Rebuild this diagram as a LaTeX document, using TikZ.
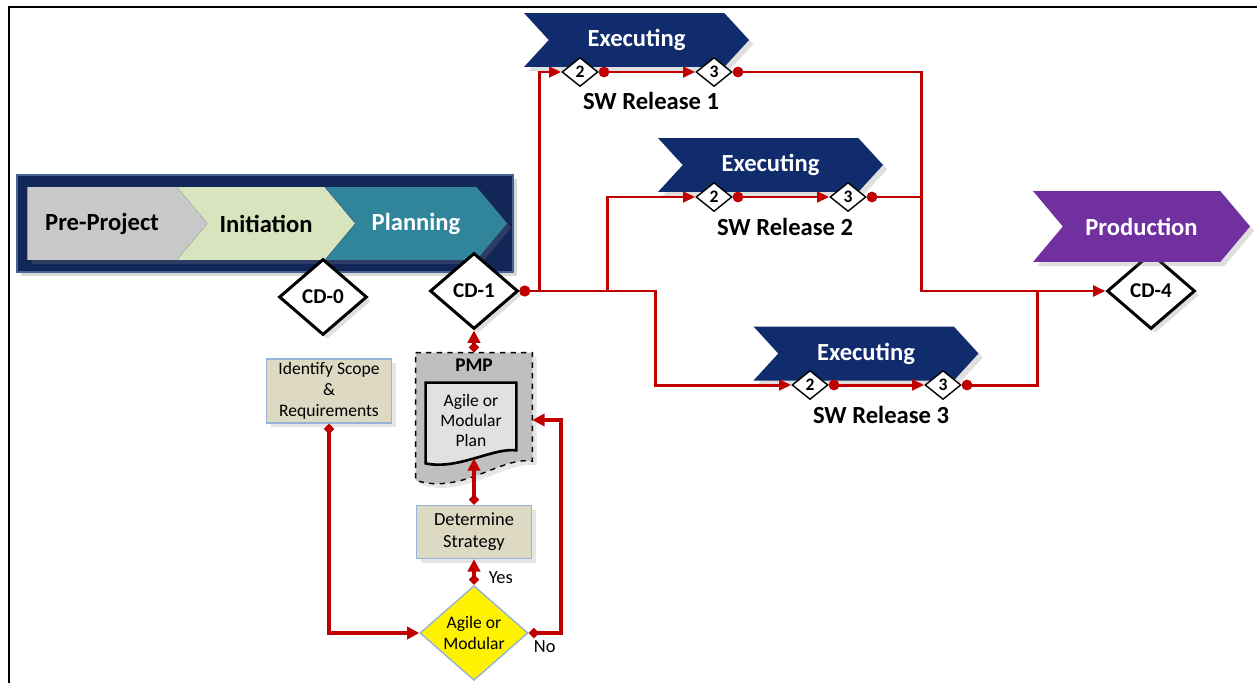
\documentclass[tikz,border=0pt]{standalone}
\usepackage{fontspec}
\setmainfont{Carlito}
\usepackage{xcolor}
\usepackage{tikz}
\definecolor{linkred}{RGB}{192,0,0}
\definecolor{bandblue}{RGB}{18,38,88}
\definecolor{bandedge}{RGB}{70,100,150}
\definecolor{execblue}{RGB}{16,44,108}
\definecolor{phasegray}{RGB}{200,200,200}
\definecolor{phasegreen}{RGB}{215,228,189}
\definecolor{phaseteal}{RGB}{49,133,155}
\definecolor{phasepurple}{RGB}{112,48,160}
\definecolor{boxtan}{RGB}{221,217,195}
\definecolor{boxedge}{RGB}{149,179,215}
\definecolor{pmpgray}{RGB}{191,191,191}
\definecolor{docgray}{RGB}{225,225,225}
\usetikzlibrary{shapes,arrows.meta,positioning,shadows,calc,backgrounds}

\begin{document}
\begin{tikzpicture}[
    x=0.02cm, y=-0.02cm,
    phase/.style={signal, signal to=east, signal pointer angle=100, inner sep=0pt, minimum height=1.46cm, font=\fontsize{14}{16}\selectfont\bfseries, drop shadow={opacity=0.25}},
    stage/.style={signal, signal to=east, signal from=west, signal pointer angle=95, fill=execblue, text=white, inner sep=0pt, minimum width=4.5cm, minimum height=1.08cm, font=\fontsize{14}{16}\selectfont\bfseries, drop shadow={opacity=0.25}},
    gate/.style={diamond, draw, line width=1.7pt, fill=white, inner sep=0pt, minimum width=1.76cm, minimum height=1.52cm, font=\fontsize{12}{14}\selectfont\bfseries, drop shadow={opacity=0.25}},
    mile/.style={diamond, draw, line width=0.8pt, fill=white, inner sep=0pt, minimum width=0.72cm, minimum height=0.58cm, font=\fontsize{10}{12}\selectfont\bfseries},
    relname/.style={font=\fontsize{14}{16}\selectfont\bfseries},
    task/.style={rectangle, draw=boxedge, fill=boxtan, line width=0.8pt, align=center, inner sep=1pt, font=\fontsize{10}{12}\selectfont, drop shadow={opacity=0.2}},
    link/.style={draw=linkred, line width=1.7pt},
    dotlink/.style={link, {Circle[length=6pt]}-{Triangle[length=7pt,width=6pt]}},
    dotonly/.style={link, {Circle[length=6pt]}-},
    flow/.style={draw=linkred, line width=2.2pt, {Diamond[length=6pt,width=6pt]}-{Triangle[length=7pt,width=7pt]}}
]
\useasboundingbox (0,0) rectangle (1257,683);
\draw[line width=1.5pt] (1257,7) -- (9,7) -- (9,683);

\node[draw=bandedge, line width=1pt, fill=bandblue, minimum width=9.92cm, minimum height=1.94cm, drop shadow={opacity=0.3}] (band) at (265,223.5) {};
\node[phase, fill=phasegray, minimum width=3.6cm, anchor=west] (pre) at (27,223.5) {Pre-Project};
\node[phase, signal from=west, fill=phasegreen, minimum width=3.56cm] (init) at (266,223.5) {Initiation};
\node[phase, signal from=west, fill=phaseteal, text=white, minimum width=3.64cm] (planning) at (416,223.5) {Planning};

\node[gate] (cd0) at (323,297) {CD-0};
\node[gate] (cd1) at (474,291) {CD-1};
\node[gate] (cd4) at (1151,291) {CD-4};

\node[stage] (exec1) at (636.5,40) {Executing};
\node[stage] (exec2) at (770.5,165) {Executing};
\node[stage] (exec3) at (866,353.5) {Executing};
\node[phase, signal from=west, fill=phasepurple, text=white, minimum width=4.34cm, minimum height=1.42cm] (prod) at (1141.5,226.5) {Production};

\node[mile] (r1a) at (580,72) {2};
\node[mile] (r1b) at (714,72) {3};
\node[mile] (r2a) at (714,197) {2};
\node[mile] (r2b) at (848,197) {3};
\node[mile] (r3a) at (810,385) {2};
\node[mile] (r3b) at (943,385) {3};

\node[relname] (rel1) at (651,101) {SW Release 1};
\node[relname] (rel2) at (785,227) {SW Release 2};
\node[relname] (rel3) at (881,415) {SW Release 3};

\node[task, minimum width=2.5cm, minimum height=1.28cm] (scope) at (329,391) {Identify Scope\\\&\\Requirements};
\node[task, minimum width=2.3cm, minimum height=1.06cm, font=\fontsize{10.5}{12.5}\selectfont] (strategy) at (474,532) {Determine\\Strategy};
\node[diamond, draw=boxedge, fill=yellow, line width=0.8pt, inner sep=0pt, minimum width=2.16cm, minimum height=1.6cm, align=center, font=\fontsize{10}{12}\selectfont] (decide) at (474,633) {Agile or\\Modular};
\node[minimum width=2.32cm, minimum height=2.68cm, inner sep=0pt] (pmp) at (474,420) {};
\node[below=0pt of pmp.north, font=\fontsize{11}{13}\selectfont\bfseries] (pmptitle) {PMP};
\node[minimum width=1.8cm, minimum height=1.5cm, align=center, inner sep=0pt, font=\fontsize{10}{11.5}\selectfont] (plandoc) at (471,420.5) {Agile or\\Modular\\Plan};

\begin{scope}[on background layer]
\draw[dashed, line width=0.8pt, fill=pmpgray, drop shadow={opacity=0.2}] (pmp.north west) -- (pmp.north east) -- ($(pmp.south east)+(0,-26)$) .. controls ($(pmp.south east)+(-30,-32)$) and ($(pmp.south west)+(46,8)$) .. ($(pmp.south west)+(0,-7)$) -- cycle;
\draw[line width=1.5pt, fill=docgray] (plandoc.north west) -- (plandoc.north east) -- ($(plandoc.south east)+(0,-8)$) .. controls ($(plandoc.south east)+(-23,-11)$) and ($(plandoc.south west)+(32,12)$) .. ($(plandoc.south west)+(0,5)$) -- cycle;
\end{scope}

\coordinate (j1) at (539,291);
\coordinate (j2) at (607,291);
\coordinate (j3) at (655,291);
\coordinate (j4) at (921,291);
\coordinate (j5) at (1037,291);

\draw[dotlink] (cd1.east) -- (j1) |- (r1a.west);
\draw[dotlink] (cd1.east) -- (j2) |- (r2a.west);
\draw[dotlink] (cd1.east) -- (j3) |- (r3a.west);
\draw[dotlink] (r1a.east) -- (r1b.west);
\draw[dotlink] (r2a.east) -- (r2b.west);
\draw[dotlink] (r3a.east) -- (r3b.west);
\draw[dotlink] (r1b.east) -| (j4) -- (cd4.west);
\draw[dotonly] (r2b.east) -- (r2b.east -| j4);
\draw[dotonly] (r3b.east) -| (j5);

\draw[flow] (pmp.north) -- (cd1.south);
\draw[flow] (strategy.north) -- (strategy.north |- plandoc.south);
\draw[flow] (decide.north) -- node[right, pos=0.3, xshift=4pt, font=\fontsize{10.5}{12}\selectfont] {Yes} (strategy.south);
\draw[flow] (scope.south) |- (decide.west);
\draw[flow] (decide.east) -- node[below, font=\fontsize{10.5}{12}\selectfont] {No} ++(32,0) |- (pmp.east);

\end{tikzpicture}
\end{document}
